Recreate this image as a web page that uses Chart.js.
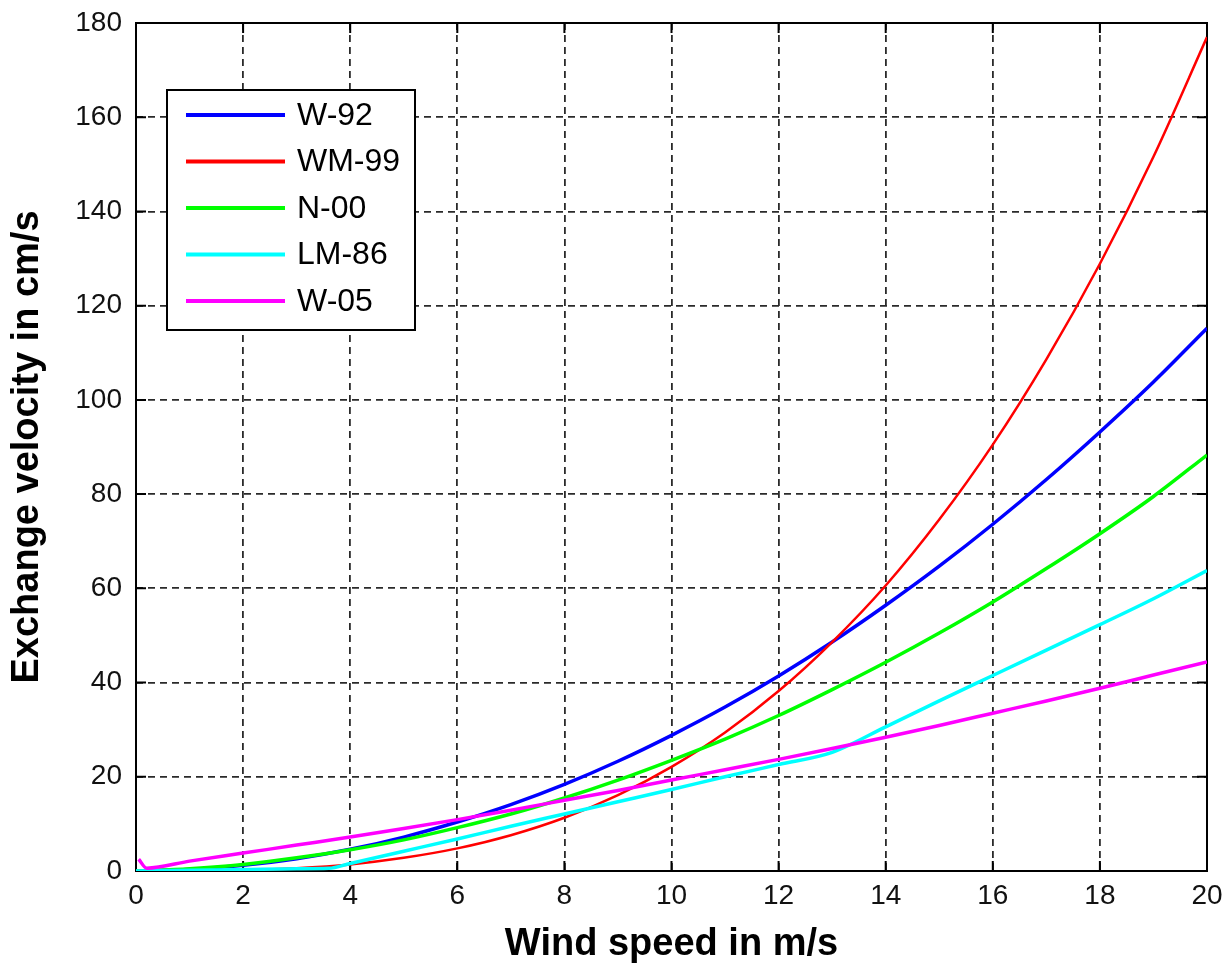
<!DOCTYPE html>
<html>
<head>
<meta charset="utf-8">
<script src="https://cdn.jsdelivr.net/npm/chart.js@4/dist/chart.umd.min.js"></script>
<style>
  html, body { margin: 0; padding: 0; background: #fff; }
  #wrap { width: 1225px; height: 964px; }
</style>
</head>
<body>
<div id="wrap"><canvas id="myChart" width="1225" height="964"></canvas></div>
<script>
// wind speed (m/s) and exchange velocity (cm/s)
var speeds = [0, 1, 2, 3, 4, 5, 6, 7, 8, 9, 10, 11, 12, 13, 14, 15, 16, 17, 18, 19, 20];
var w92  = [0, 0.3, 1.2, 2.6, 4.6, 7.2, 10.4, 14.1, 18.4, 23.3, 28.8, 34.8, 41.4, 48.6, 56.4, 64.7, 73.6, 83.1, 93.2, 103.8, 115.2];
var wm99 = [0, 0.02, 0.18, 0.6, 1.4, 2.8, 4.8, 7.6, 11.3, 16.1, 22.1, 29.4, 38.2, 48.6, 60.6, 74.6, 90.5, 108.6, 128.9, 151.6, 177];
var n00  = [0, 0.5, 1.4, 2.8, 4.5, 6.6, 9.2, 12.1, 15.5, 19.3, 23.5, 28.0, 33.0, 38.5, 44.3, 50.5, 57.1, 64.2, 71.6, 79.5, 88.3];

var lm86Speeds = [0, 1, 2, 3, 3.6, 4, 5, 6, 7, 8, 9, 10, 11, 12, 13, 14, 15, 16, 17, 18, 19, 20];
var lm86 = [0, 0.16, 0.31, 0.47, 0.56, 1.6, 4.2, 6.8, 9.5, 12.1, 14.7, 17.3, 20.0, 22.6, 25.2, 30.6, 36.1, 41.5, 46.9, 52.3, 57.8, 63.8];

var w05Speeds = [0.05, 0.2, 1, 2, 3, 4, 5, 6, 7, 8, 9, 10, 11, 12, 13, 14, 15, 16, 17, 18, 19, 20];
var w05 = [2.5, 0.6, 2.1, 3.8, 5.5, 7.2, 9.0, 10.9, 12.9, 15.0, 17.1, 19.3, 21.5, 23.7, 26.0, 28.4, 30.9, 33.5, 36.1, 38.8, 41.6, 44.4];

var labels = ['W-92', 'WM-99', 'N-00', 'LM-86', 'W-05'];
var colors = ['#0000ff', '#ff0000', '#00ff00', '#00ffff', '#ff00ff'];

var fontFamily = '"Liberation Sans", Arial, sans-serif';

function toPoints(xs, ys) {
  var pts = [];
  for (var i = 0; i < xs.length; i++) {
    pts.push({ x: xs[i], y: ys[i] });
  }
  return pts;
}

function series(i, xs, ys, width) {
  return {
    label: labels[i],
    data: toPoints(xs, ys),
    borderColor: colors[i],
    backgroundColor: colors[i],
    borderWidth: width,
    pointRadius: 0,
    fill: false,
    cubicInterpolationMode: 'monotone',
    order: 5 - i   // later series drawn on top, like matlab
  };
}

//===========================================
//  frame with inward ticks + boxed legend
//===========================================
var matlabAxes = {
  id: 'matlabAxes',
  beforeDatasetsDraw: function (chart) {
    var ctx = chart.ctx, a = chart.chartArea;
    var x = chart.scales.x, y = chart.scales.y;
    ctx.save();
    ctx.strokeStyle = '#000';
    ctx.lineWidth = 2;
    ctx.beginPath();
    x.ticks.forEach(function (t) {
      var px = x.getPixelForValue(t.value);
      ctx.moveTo(px, a.bottom); ctx.lineTo(px, a.bottom - 10);
      ctx.moveTo(px, a.top); ctx.lineTo(px, a.top + 10);
    });
    y.ticks.forEach(function (t) {
      var py = y.getPixelForValue(t.value);
      ctx.moveTo(a.left, py); ctx.lineTo(a.left + 10, py);
      ctx.moveTo(a.right, py); ctx.lineTo(a.right - 10, py);
    });
    ctx.stroke();
    ctx.strokeRect(a.left, a.top, a.right - a.left, a.bottom - a.top);
    ctx.restore();
  },
  afterDatasetsDraw: function (chart) {
    var ctx = chart.ctx;
    var box = { left: 167, top: 90, width: 248, height: 240 };
    ctx.save();
    ctx.fillStyle = '#fff';
    ctx.fillRect(box.left, box.top, box.width, box.height);
    ctx.strokeStyle = '#000';
    ctx.lineWidth = 2;
    ctx.strokeRect(box.left, box.top, box.width, box.height);
    ctx.font = '32px ' + fontFamily;
    ctx.textBaseline = 'middle';
    ctx.textAlign = 'left';
    chart.data.datasets.forEach(function (ds, i) {
      var rowY = box.top + 25 + i * 46.5;
      ctx.strokeStyle = ds.borderColor;
      ctx.lineWidth = 4;
      ctx.beginPath();
      ctx.moveTo(box.left + 19, rowY);
      ctx.lineTo(box.left + 118, rowY);
      ctx.stroke();
      ctx.fillStyle = '#000';
      ctx.fillText(ds.label, box.left + 130, rowY + 1);
    });
    ctx.restore();
  }
};

var ctx = document.getElementById('myChart').getContext('2d');
var chart = new Chart(ctx, {
  type: 'line',
  data: {
    datasets: [
      series(0, speeds, w92, 3.5),
      series(1, speeds, wm99, 2.5),
      series(2, speeds, n00, 3.5),
      series(3, lm86Speeds, lm86, 3.5),
      series(4, w05Speeds, w05, 3.5)
    ]
  },
  options: {
    responsive: false,
    animation: false,
    layout: { padding: { top: 23, right: 18, left: 0, bottom: 0 } },
    plugins: {
      legend: { display: false },
      tooltip: { enabled: false }
    },
    scales: {
      x: {
        type: 'linear',
        min: 0,
        max: 20,
        afterFit: function (scale) {
          scale.height = 93;
          scale.paddingLeft = 0;
          scale.paddingRight = 0;
        },
        ticks: {
          stepSize: 2,
          padding: 8,
          color: '#111',
          font: { family: fontFamily, size: 28 }
        },
        grid: { color: '#2a2a2a', lineWidth: 1.8, drawTicks: false },
        border: { display: false, dash: [7, 5] },
        title: {
          display: true,
          text: 'Wind speed in m/s',
          color: '#000',
          padding: { top: 0, bottom: 0 },
          font: { family: fontFamily, size: 38, weight: 'bold', lineHeight: 1.0 }
        }
      },
      y: {
        min: 0,
        max: 180,
        afterFit: function (scale) {
          scale.width = 136;
          scale.paddingTop = 0;
          scale.paddingBottom = 0;
        },
        ticks: {
          stepSize: 20,
          padding: 14,
          color: '#111',
          font: { family: fontFamily, size: 28 }
        },
        grid: { color: '#2a2a2a', lineWidth: 1.8, drawTicks: false },
        border: { display: false, dash: [7, 5] },
        title: {
          display: true,
          text: 'Exchange velocity in cm/s',
          color: '#000',
          padding: { top: 9, bottom: 0 },
          font: { family: fontFamily, size: 38, weight: 'bold', lineHeight: 1.0 }
        }
      }
    }
  },
  plugins: [matlabAxes]
});
</script>
</body>
</html>
